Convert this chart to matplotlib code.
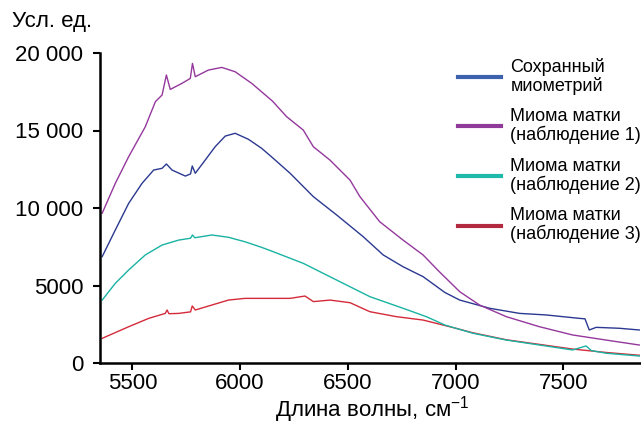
import matplotlib
matplotlib.use("Agg")
import numpy as np
from matplotlib import pyplot as plt
from matplotlib.lines import Line2D
from matplotlib.ticker import FuncFormatter

plt.rcParams['font.family'] = ['Liberation Sans', 'DejaVu Sans']
plt.rcParams['mathtext.fontset'] = 'custom'
plt.rcParams['mathtext.rm'] = 'Liberation Sans'
plt.rcParams['mathtext.default'] = 'rm'

# Спектры, усл. ед. (волновое число, см^-1)
myo_x = [5360, 5421, 5483, 5545, 5599, 5638, 5658, 5684, 5746, 5770, 5778, 5792, 5838, 5884,
         5931, 5977, 6039, 6100, 6150, 6232, 6340, 6448, 6571, 6664, 6756, 6849, 6950, 7019,
         7158, 7297, 7420, 7574, 7600, 7620, 7652, 7760, 7852]
myo_y = [6860, 8580, 10300, 11590, 12450, 12560, 12840, 12450, 12060, 12200, 12710, 12240, 13090, 13950,
         14640, 14820, 14430, 13850, 13250, 12240, 10730, 9550, 8150, 6970, 6210, 5570, 4550, 4060,
         3530, 3200, 3100, 2880, 2850, 2130, 2300, 2240, 2130]

obs1_x = [5360, 5421, 5483, 5560, 5607, 5638, 5658, 5676, 5730, 5769, 5779, 5792, 5853, 5915,
          5977, 6054, 6150, 6216, 6293, 6340, 6417, 6510, 6556, 6648, 6756, 6849, 6920, 7019,
          7111, 7235, 7389, 7542, 7698, 7852]
obs1_y = [9660, 11590, 13310, 15240, 16860, 17290, 18580, 17650, 18040, 18360, 19330, 18470, 18900, 19070,
          18790, 18040, 16900, 15890, 15030, 13950, 13090, 11800, 10730, 9110, 7930, 6970, 5950, 4600,
          3740, 2990, 2340, 1810, 1480, 1160]

obs2_x = [5360, 5421, 5483, 5560, 5638, 5715, 5770, 5779, 5790, 5869, 5946, 6023, 6100, 6150,
          6293, 6448, 6602, 6756, 6864, 6950, 7080, 7235, 7389, 7543, 7605, 7630, 7698, 7852]
obs2_y = [4060, 5140, 6000, 6970, 7610, 7930, 8050, 8260, 8080, 8260, 8110, 7820, 7460, 7200,
          6430, 5350, 4280, 3530, 2990, 2450, 1920, 1480, 1160, 840, 1100, 800, 630, 450]

obs3_x = [5360, 5483, 5576, 5653, 5661, 5670, 5715, 5770, 5778, 5792, 5869, 5946, 6023, 6100,
          6232, 6301, 6340, 6417, 6510, 6602, 6725, 6849, 6973, 7080, 7235, 7389, 7543, 7698, 7852]
obs3_y = [1590, 2340, 2880, 3200, 3420, 3180, 3200, 3300, 3680, 3420, 3740, 4060, 4170, 4170,
          4170, 4320, 3960, 4060, 3890, 3310, 2990, 2770, 2340, 1950, 1500, 1200, 900, 680, 500]

labels = ['Сохранный\nмиометрий', 'Миома матки\n(наблюдение 1)',
          'Миома матки\n(наблюдение 2)', 'Миома матки\n(наблюдение 3)']
line_colors = ['#2b3990', '#94389c', '#19b3a3', '#d42a3a']
legend_colors = ['#3d62ad', '#8f3a98', '#1db9aa', '#b1283f']

x_ticks = [5500, 6000, 6500, 7000, 7500]
y_ticks = [0, 5000, 10000, 15000, 20000]


def thousands(v, pos):
    v = int(v)
    return f'{v // 1000} 000' if v >= 10000 else str(v)


fig = plt.figure(figsize=(6.41, 4.24), dpi=100)
ax = fig.add_axes([100 / 641, 61 / 424, 541 / 641, 310 / 424])

ax.plot(obs3_x, obs3_y, color=line_colors[3], lw=1.0)
ax.plot(obs2_x, obs2_y, color=line_colors[2], lw=1.0)
ax.plot(myo_x, myo_y, color=line_colors[0], lw=1.0)
ax.plot(obs1_x, obs1_y, color=line_colors[1], lw=1.0)

ax.set_xlim(5350, 7860)
ax.set_ylim(0, 20000)
ax.set_xticks(x_ticks)
ax.set_yticks(y_ticks)
ax.yaxis.set_major_formatter(FuncFormatter(thousands))
ax.tick_params(direction='out', length=5, width=1.5, labelsize=16, pad=2.5)
ax.tick_params(axis='y', pad=7)
for side in ('top', 'right'):
    ax.spines[side].set_visible(False)
for side in ('left', 'bottom'):
    ax.spines[side].set_linewidth(1.8)

fig.text(372 / 641, 7.5 / 424, 'Длина волны, см$^{-1}$', fontsize=16, ha='center', va='baseline')
fig.text(12 / 641, 1 - 22 / 424, 'Усл. ед.', fontsize=16, va='center', ha='left')

handles = [Line2D([], [], color=c, lw=3) for c in legend_colors]
leg = ax.legend(handles, labels, loc='upper left', bbox_to_anchor=(449 / 641, 1 - 49 / 424),
                bbox_transform=fig.transFigure, frameon=False, fontsize=13,
                handlelength=2.4, handletextpad=0.5, labelspacing=0.75, borderpad=0)
for t in leg.get_texts():
    t.set_linespacing(1.05)

fig.savefig('out.png', dpi=100)
